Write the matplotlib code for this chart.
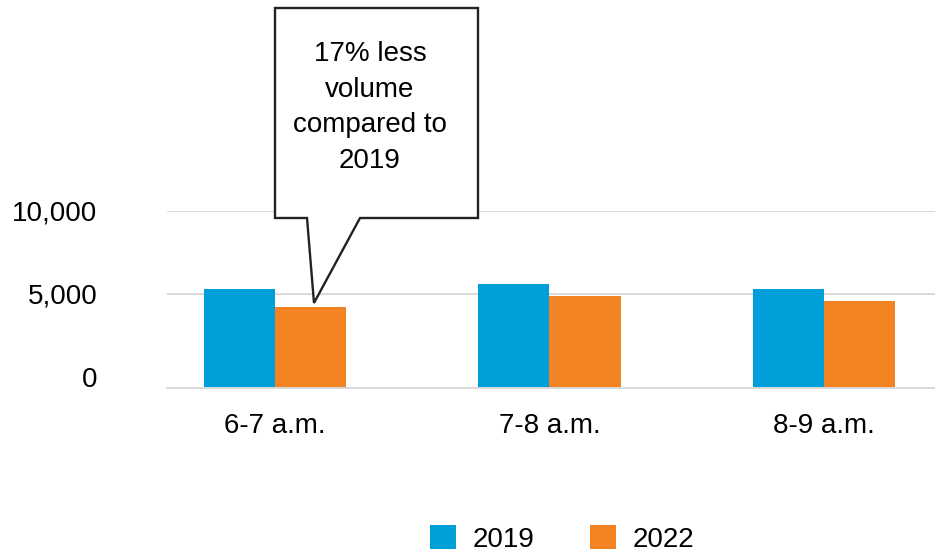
import matplotlib
matplotlib.use("Agg")
import matplotlib.pyplot as plt
from matplotlib.patches import Polygon, Patch
from matplotlib.transforms import IdentityTransform
import numpy as np

categories = ["6-7 a.m.", "7-8 a.m.", "8-9 a.m."]
series_names = ["2019", "2022"]
values_2019 = [5300, 5600, 5300]
values_2022 = [4220, 4880, 4580]
y_ticks = [0, 5000, 10000]
y_tick_labels = ["0", "5,000", "10,000"]
callout_text = "17% less\nvolume\ncompared to\n2019"

BLUE = "#009FDA"
ORANGE = "#F28322"
GRID = "#D9D9D9"

plt.rcParams["font.family"] = ["Liberation Sans", "DejaVu Sans"]

W, H = 935, 555
fig = plt.figure(figsize=(W / 100, H / 100), dpi=100)

# axes placement in pixels (top-left origin)
ax_left, ax_right, ax_top, ax_bottom = 167, 935, 211, 387.7
ax = fig.add_axes([ax_left / W, 1 - ax_bottom / H,
                   (ax_right - ax_left) / W, (ax_bottom - ax_top) / H])

ymin, ymax = -645, 10000
ax.set_ylim(ymin, ymax)
ax.set_xlim(-0.3934, 2.4044)

x = np.arange(len(categories))
bw = 0.2587
v19 = np.array(values_2019, dtype=float)
v22 = np.array(values_2022, dtype=float)
ax.bar(x - bw / 2, v19 - ymin, bottom=ymin, width=bw, color=BLUE, zorder=3, linewidth=0)
ax.bar(x + bw / 2, v22 - ymin, bottom=ymin, width=bw, color=ORANGE, zorder=3, linewidth=0)

ax.set_yticks(y_ticks)
ax.set_yticklabels(y_tick_labels)
ax.set_xticks(x)
ax.set_xticklabels(categories)
ax.tick_params(axis="y", length=0, pad=50, labelsize=20, labelcolor="#000000")
ax.tick_params(axis="x", length=0, pad=18, labelsize=20, labelcolor="#000000")

ax.yaxis.grid(True, color=GRID, linewidth=1.4, zorder=0)
ax.set_axisbelow(True)
for gl, t in zip(ax.get_ygridlines(), y_ticks):
    if t == 0:
        gl.set_visible(False)

for s in ["top", "right", "left"]:
    ax.spines[s].set_visible(False)
ax.spines["bottom"].set_color(GRID)
ax.spines["bottom"].set_linewidth(1.4)
ax.spines["bottom"].set_zorder(4)

# Callout pointing at the 2022 bar of the first category
fig.canvas.draw()
tip_disp = ax.transData.transform((x[0] + bw / 2, v22[0]))
tip = (tip_disp[0] + 3.5, tip_disp[1] + 4)

def P(px, py):
    return (px, H - py)

box_l, box_r, box_t, box_b = 275, 478, 8, 218
base_l, base_r = 307, 360
pts = [P(box_l, box_t), P(box_r, box_t), P(box_r, box_b), P(base_r, box_b),
       tip, P(base_l, box_b), P(box_l, box_b)]
poly = Polygon(pts, closed=True, facecolor="white", edgecolor="#222222",
               linewidth=1.7, joinstyle="miter", transform=IdentityTransform(),
               zorder=10)
fig.add_artist(poly)
fig.text(370 / W, 1 - 107.5 / H, callout_text, ha="center", va="center",
         multialignment="center", fontsize=20, linespacing=1.47,
         color="#000000", zorder=11)

handles = [Patch(facecolor=BLUE, edgecolor="none"),
           Patch(facecolor=ORANGE, edgecolor="none")]
fig.legend(handles, series_names, loc="center", ncol=2,
           bbox_to_anchor=(562 / W, 1 - 539 / H), frameon=False,
           fontsize=20, handlelength=0.935, handleheight=0.935,
           handletextpad=0.61, columnspacing=2.0, borderpad=0)

fig.savefig("out.png", dpi=100)
